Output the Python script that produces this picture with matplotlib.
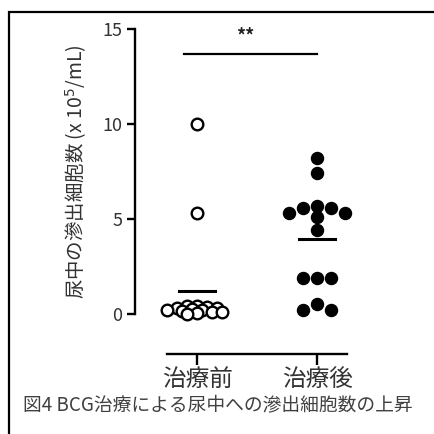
import matplotlib
matplotlib.use("Agg")
import matplotlib.pyplot as plt
import numpy as np

plt.rcParams['font.family'] = ['Noto Sans CJK JP', 'DejaVu Sans']

# data (x 10^5/mL)
groups = ["治療前", "治療後"]
before = [10.0, 5.3, 0.4, 0.4, 0.35, 0.3, 0.3, 0.25, 0.2, 0.2, 0.15, 0.1, 0.1, 0.05, 0.0]
after = [8.2, 7.4, 5.7, 5.6, 5.6, 5.3, 5.3, 5.1, 4.4, 1.9, 1.9, 1.9, 0.5, 0.2, 0.2]
yticks = [0, 5, 10, 15]
sig_label = "**"
ylabel = "尿中の滲出細胞数 (x 10$^5$/mL)"
caption = "図4 BCG治療による尿中への滲出細胞数の上昇"

fig = plt.figure(figsize=(4.34, 4.34), dpi=100)
ax = fig.add_axes([0.311, 0.2765, 0.558, 0.657])
ax.set_xlim(0.483, 2.5)
ax.set_ylim(0, 15)


def swarm(ax, xc, vals, mindist, step):
    # simple beeswarm in pixel space, returns x in data coords
    pts = ax.transData.transform(np.column_stack([np.full(len(vals), xc), vals]))
    order = np.argsort(vals)[::-1]
    placed = []
    xs = np.zeros(len(vals))
    for i in order:
        px, py = pts[i]
        k = 0
        while True:
            offs = [0] if k == 0 else [-k * step, k * step]
            ok = None
            for o in offs:
                if all((px + o - qx) ** 2 + (py - qy) ** 2 >= mindist ** 2 for qx, qy in placed):
                    ok = o
                    break
            if ok is not None:
                break
            k += 1
        placed.append((px + ok, py))
        xs[i] = ax.transData.inverted().transform((px + ok, py))[0]
    return xs


xb = swarm(ax, 1, before, 5.5, 5)
xa = swarm(ax, 2, after, 11, 7)

ax.scatter(xb, before, s=70, facecolor='white', edgecolor='black', linewidth=1.7, clip_on=False, zorder=3)
ax.scatter(xa, after, s=75, facecolor='black', edgecolor='black', clip_on=False, zorder=3)

for i, vals in enumerate([before, after]):
    m = np.mean(vals)
    ax.plot([i + 1 - 0.15, i + 1 + 0.15], [m, m], color='black', lw=2.2, zorder=4, clip_on=False)

# significance bar
ax.plot([0.89, 2.0], [13.7, 13.7], color='black', lw=1.6)
ax.text(1.40, 14.6, sig_label, ha='center', va='center', fontsize=13, color='#222222', fontweight='bold')

for s in ['top', 'right']:
    ax.spines[s].set_visible(False)
ax.spines['left'].set_linewidth(1.7)
ax.spines['bottom'].set_linewidth(1.7)
ax.spines['bottom'].set_position(('outward', 29))
ax.spines['bottom'].set_bounds(0.75, 2.25)

ax.set_yticks(yticks)
ax.set_xticks([1, 2])
ax.set_xticklabels(groups, fontsize=17, color='#333333')
ax.tick_params(axis='y', labelsize=13, length=6, width=1.7, colors='black', labelcolor='#333333', pad=3)
ax.tick_params(axis='x', length=8, width=1.7, pad=2)
ax.set_ylabel(ylabel, fontsize=14, color='#333333', labelpad=10)

fig.text(0.052, 0.067, caption, fontsize=13.5, color='#404040', va='center', ha='left')

# frame around figure
fig.patches.append(plt.Rectangle((9 / 434, -0.1), 1.2, (434 - 12) / 434 + 0.1, transform=fig.transFigure,
                                 fill=False, edgecolor='black', lw=1.6))

fig.savefig("out.png", dpi=100)
